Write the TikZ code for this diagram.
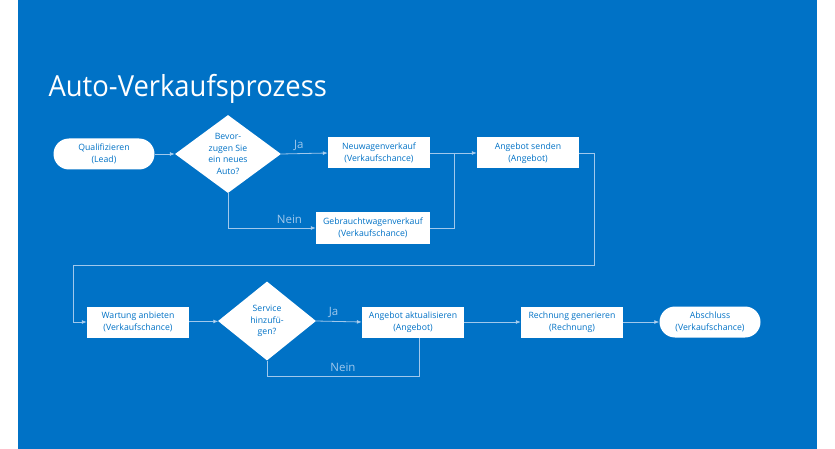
\documentclass[tikz,border=0pt]{standalone}
\usepackage{fontspec}
\setmainfont{Open Sans}
\newfontfamily\titlefont[FakeStretch=0.945]{Open Sans}
\usetikzlibrary{shapes.geometric,arrows.meta}
\definecolor{msblue}{RGB}{0,114,198}
\definecolor{flowline}{RGB}{160,200,236}
\begin{document}
\begin{tikzpicture}[x=1pt,y=-1pt,
    every node/.style={font=\fontsize{8.7}{11.6}\selectfont, text=msblue, align=center},
    proc/.style={fill=white, inner sep=0pt, minimum width=102pt, minimum height=31pt},
    term/.style={fill=white, inner sep=0pt, minimum width=101pt, minimum height=31pt, rounded corners=15.5pt},
    dia/.style={diamond, fill=white, inner sep=0pt},
    flow/.style={draw=flowline, line width=0.8pt, -{Latex[length=5pt,width=4pt,fill=white]}},
    lbl/.style={font=\fontsize{11.5}{13}\selectfont, text=flowline, inner sep=1pt}]
  \useasboundingbox (0,0) rectangle (835,449);
  \fill[white] (0,0) rectangle (835,449);
  \fill[msblue] (18,0) rectangle (817,449);
  \node[font=\titlefont\fontsize{29}{34}\selectfont, text=white, anchor=base west] (title) at (45,97) {Auto-Verkaufsprozess};
  \draw
    (104,154) node[term] (lead) {Qualifizieren\\(Lead)}
    (228,154) node[dia, minimum width=106pt, minimum height=78pt,
      label={center:Bevor-\\zugen Sie\\ein neues\\Auto?}] (q1) {}
    (379,153) node[proc] (neu) {Neuwagenverkauf\\(Verkaufschance)}
    (373,228) node[proc, minimum width=114pt] (gebr) {Gebrauchtwagenverkauf\\(Verkaufschance)}
    (528,153) node[proc] (send) {Angebot senden\\(Angebot)}
    (138,322) node[proc] (wart) {Wartung anbieten\\(Verkaufschance)}
    (267,321) node[dia, minimum width=98pt, minimum height=79pt,
      label={center:Service\\hinzufü-\\gen?}] (q2) {}
    (413,322) node[proc] (akt) {Angebot aktualisieren\\(Angebot)}
    (572,322) node[proc] (rech) {Rechnung generieren\\(Rechnung)}
    (710,322) node[term] (absch) {Abschluss\\(Verkaufschance)};
  \coordinate (join) at (454,153);
  \coordinate (r1) at (594,153);
  \coordinate (r2) at (594,265);
  \coordinate (l1) at (73,265);
  \coordinate (aktfoot) at (419,337.5);
  \begin{scope}[flow]
    \draw (lead) to (q1);
    \draw (q1.east) to node[lbl, above=2pt, pos=0.38] {Ja} (neu.west);
    \draw (q1.south) |- node[lbl, above=3pt, pos=0.85] {Nein} (gebr.west);
    \draw (neu.east) to (send.west);
    \draw[-] (gebr.east) -| (join);
    \draw (send.east) -- (r1) -- (r2) -- (l1) |- (wart.west);
    \draw (wart) to (q2);
    \draw (q2.east) to node[lbl, above=2pt, pos=0.38] {Ja} (akt.west);
    \draw[-] (q2.south) -- ++(0,16) -| node[lbl, above=4pt, pos=0.25] {Nein} (aktfoot);
    \draw (akt) to (rech);
    \draw (rech) to (absch);
  \end{scope}
\end{tikzpicture}
\end{document}
